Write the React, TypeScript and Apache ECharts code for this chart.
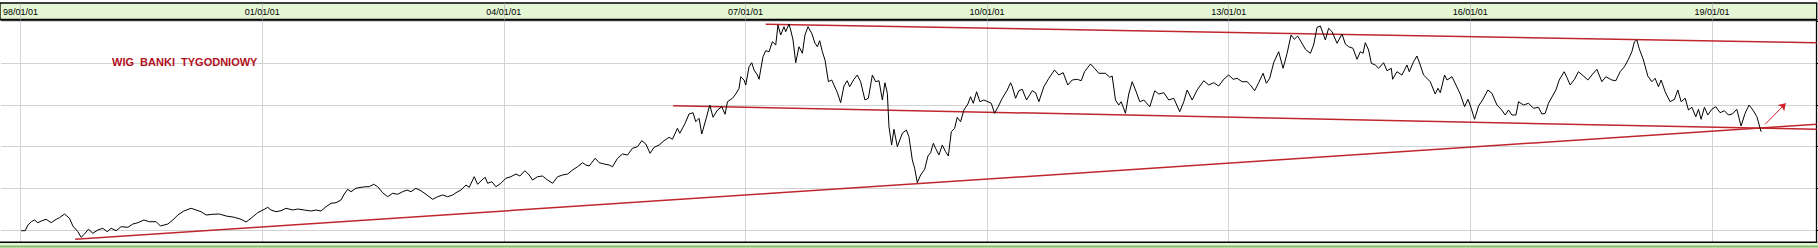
import { useEffect, useRef } from "react";
import * as echarts from "echarts";

// x ticks (every 3 years) and horizontal grid values
const tickYears = [1998, 2001, 2004, 2007, 2010, 2013, 2016, 2019];
const gridValues = [1000, 2000, 3000, 4000, 5000, 6000];

// weekly WIG-Banki readings [decimal year, index]
const wig1998_2001 = [
  [1998.009, 983], [1998.058, 983], [1998.092, 1120], [1998.133, 1199], [1998.174, 1240], [1998.216, 1175], [1998.257, 1216], [1998.319, 1257], [1998.381, 1175], [1998.443, 1257], [1998.484, 1295], [1998.546, 1384], [1998.608, 1281], [1998.65, 1096], [1998.712, 959], [1998.753, 825], [1998.794, 904], [1998.844, 1017], [1998.898, 921], [1998.96, 1000],
  [1999.022, 1041], [1999.076, 959], [1999.125, 1041], [1999.187, 983], [1999.249, 1079], [1999.333, 1065], [1999.395, 1144], [1999.457, 1175], [1999.531, 1240], [1999.6, 1199], [1999.684, 1199], [1999.737, 1096], [1999.829, 1144], [1999.891, 1240], [1999.953, 1360],
  [2000.027, 1456], [2000.118, 1521], [2000.18, 1480], [2000.242, 1439], [2000.304, 1360], [2000.387, 1377], [2000.469, 1384], [2000.552, 1336], [2000.655, 1305], [2000.738, 1257], [2000.8, 1192], [2000.862, 1281], [2000.945, 1415],
  [2001.027, 1497], [2001.069, 1545], [2001.11, 1480], [2001.172, 1439], [2001.234, 1463], [2001.297, 1521], [2001.38, 1480], [2001.442, 1504], [2001.524, 1480], [2001.607, 1456], [2001.669, 1480], [2001.731, 1456], [2001.793, 1559], [2001.855, 1641], [2001.917, 1655], [2001.979, 1720],
];
const wig2002_2005 = [
  [2002.02, 1864], [2002.062, 1977], [2002.103, 1919], [2002.165, 2001], [2002.227, 2025], [2002.289, 2039], [2002.33, 2039], [2002.385, 2097], [2002.434, 2039], [2002.496, 1895], [2002.558, 1799], [2002.62, 1881], [2002.682, 1857], [2002.744, 1919], [2002.798, 1960], [2002.847, 1919], [2002.909, 2001], [2002.971, 1943],
  [2003.033, 1857], [2003.117, 1737], [2003.179, 1799], [2003.241, 1840], [2003.303, 1799], [2003.365, 1840], [2003.406, 1895], [2003.468, 1960], [2003.53, 2080], [2003.571, 2025], [2003.633, 2279], [2003.675, 2097], [2003.728, 2200], [2003.769, 2265], [2003.799, 2121], [2003.852, 2159], [2003.902, 2039], [2003.964, 2121],
  [2004.026, 2241], [2004.088, 2279], [2004.15, 2344], [2004.2, 2296], [2004.262, 2423], [2004.315, 2320], [2004.357, 2200], [2004.419, 2279], [2004.481, 2296], [2004.531, 2217], [2004.606, 2121], [2004.668, 2279], [2004.73, 2320], [2004.792, 2344], [2004.854, 2440], [2004.916, 2519], [2004.978, 2615],
  [2005.019, 2560], [2005.06, 2536], [2005.134, 2721], [2005.184, 2615], [2005.246, 2584], [2005.308, 2560], [2005.35, 2519], [2005.412, 2721], [2005.474, 2824], [2005.536, 2800], [2005.598, 2961], [2005.66, 2999], [2005.713, 3143], [2005.763, 3064], [2005.816, 2841], [2005.866, 2985], [2005.928, 3040], [2005.99, 3143],
];
const wig2006_2009 = [
  [2006.052, 3225], [2006.094, 3177], [2006.156, 3441], [2006.185, 3321], [2006.251, 3561], [2006.3, 3784], [2006.35, 3815], [2006.383, 3599], [2006.424, 3681], [2006.458, 3304], [2006.507, 3640], [2006.557, 4000], [2006.598, 3705], [2006.653, 3880], [2006.706, 3959], [2006.747, 3777], [2006.777, 4079], [2006.839, 4161], [2006.88, 4264], [2006.921, 4401], [2006.942, 4679], [2006.983, 4600],
  [2007.004, 4480], [2007.045, 4919], [2007.078, 5015], [2007.107, 4840], [2007.149, 4720], [2007.169, 4617], [2007.218, 5159], [2007.252, 5303], [2007.293, 5279], [2007.335, 5519], [2007.376, 5440], [2007.404, 5920], [2007.438, 5680], [2007.479, 5879], [2007.5, 5759], [2007.541, 5944], [2007.562, 5800], [2007.591, 5560], [2007.624, 5015], [2007.665, 5399], [2007.707, 5241], [2007.739, 5680], [2007.777, 5879], [2007.823, 5721], [2007.864, 5481], [2007.893, 5399], [2007.922, 5543], [2007.955, 5279], [2007.988, 5080],
  [2008.03, 4559], [2008.071, 4600], [2008.099, 4480], [2008.142, 4295], [2008.182, 4055], [2008.223, 4456], [2008.264, 4583], [2008.294, 4439], [2008.347, 4617], [2008.389, 4720], [2008.43, 4559], [2008.484, 4120], [2008.526, 4161], [2008.576, 4720], [2008.617, 4559], [2008.658, 4583], [2008.7, 4120], [2008.732, 4535], [2008.762, 4281], [2008.782, 3479], [2008.815, 3040], [2008.844, 3417], [2008.886, 2999], [2008.948, 3321], [2008.998, 3400],
  [2009.03, 3239], [2009.072, 2680], [2009.101, 2481], [2009.134, 2135], [2009.175, 2320], [2009.225, 2457], [2009.266, 2776], [2009.299, 2855], [2009.333, 3081], [2009.361, 2961], [2009.402, 2800], [2009.444, 3040], [2009.485, 2879], [2009.519, 2776], [2009.556, 3359], [2009.597, 3441], [2009.63, 3705], [2009.671, 3599], [2009.712, 3880], [2009.762, 4024], [2009.795, 4199], [2009.829, 4041], [2009.87, 4319], [2009.911, 4079], [2009.96, 4120],
];
const wig2010_2014 = [
  [2010.01, 4079], [2010.052, 4041], [2010.093, 3801], [2010.134, 3945], [2010.189, 4161], [2010.251, 4360], [2010.292, 4535], [2010.313, 4439], [2010.354, 4161], [2010.394, 4343], [2010.437, 4377], [2010.49, 4120], [2010.561, 4343], [2010.602, 4295], [2010.643, 4079], [2010.705, 4439], [2010.767, 4641], [2010.837, 4840], [2010.891, 4720], [2010.945, 4775],
  [2011.002, 4480], [2011.057, 4600], [2011.119, 4617], [2011.169, 4583], [2011.21, 4799], [2011.284, 4984], [2011.334, 4881], [2011.387, 4761], [2011.47, 4761], [2011.524, 4665], [2011.553, 4696], [2011.594, 4120], [2011.635, 4000], [2011.665, 4079], [2011.718, 3801], [2011.759, 4264], [2011.802, 4559], [2011.843, 4360], [2011.896, 4079], [2011.946, 4120],
  [2012.02, 3959], [2012.082, 4343], [2012.132, 4264], [2012.194, 4295], [2012.256, 4120], [2012.318, 4161], [2012.392, 3839], [2012.442, 4079], [2012.484, 4360], [2012.546, 4120], [2012.608, 4360], [2012.69, 4583], [2012.752, 4480], [2012.814, 4535], [2012.876, 4456], [2012.938, 4617],
  [2013.0, 4720], [2013.055, 4617], [2013.104, 4641], [2013.166, 4559], [2013.228, 4559], [2013.269, 4480], [2013.322, 4343], [2013.372, 4535], [2013.427, 4761], [2013.468, 4521], [2013.509, 4641], [2013.558, 5015], [2013.62, 5279], [2013.675, 4881], [2013.725, 5241], [2013.774, 5680], [2013.815, 5577], [2013.856, 5656], [2013.898, 5519], [2013.952, 5337],
  [2014.014, 5241], [2014.054, 5440], [2014.097, 5865], [2014.138, 5896], [2014.2, 5560], [2014.24, 5841], [2014.283, 5759], [2014.345, 5481], [2014.407, 5704], [2014.448, 5464], [2014.489, 5399], [2014.543, 5361], [2014.593, 5097], [2014.634, 5279], [2014.668, 5241], [2014.696, 5495], [2014.737, 5320], [2014.771, 5001], [2014.82, 4960], [2014.861, 4881], [2014.923, 5015], [2014.965, 4823],
];
const wig2015_2019 = [
  [2015.018, 4881], [2015.035, 4617], [2015.089, 4799], [2015.151, 4720], [2015.213, 4960], [2015.242, 4799], [2015.295, 5039], [2015.337, 5176], [2015.378, 4960], [2015.419, 4720], [2015.461, 4641], [2015.502, 4559], [2015.564, 4264], [2015.598, 4401], [2015.627, 4295], [2015.68, 4720], [2015.71, 4600], [2015.772, 4679], [2015.821, 4480], [2015.875, 4264], [2015.928, 3959], [2015.97, 4137],
  [2016.011, 3921], [2016.052, 3657], [2016.102, 3976], [2016.151, 4120], [2016.218, 4360], [2016.268, 4281], [2016.33, 4000], [2016.383, 3897], [2016.433, 3760], [2016.474, 3880], [2016.516, 3760], [2016.566, 3760], [2016.598, 4079], [2016.66, 4000], [2016.722, 4041], [2016.784, 3921], [2016.846, 3945], [2016.888, 3784], [2016.929, 3801], [2016.97, 4041],
  [2017.02, 4216], [2017.062, 4360], [2017.103, 4600], [2017.165, 4799], [2017.198, 4665], [2017.239, 4480], [2017.293, 4617], [2017.342, 4799], [2017.404, 4696], [2017.459, 4600], [2017.509, 4720], [2017.571, 4857], [2017.633, 4559], [2017.682, 4679], [2017.757, 4600], [2017.806, 4583], [2017.86, 4799], [2017.913, 4919], [2017.963, 5097],
  [2018.005, 5279], [2018.037, 5519], [2018.067, 5560], [2018.095, 5361], [2018.149, 5080], [2018.203, 4696], [2018.253, 4559], [2018.294, 4641], [2018.335, 4439], [2018.369, 4600], [2018.418, 4319], [2018.48, 4079], [2018.534, 4137], [2018.576, 4360], [2018.617, 4079], [2018.667, 4161], [2018.708, 3880], [2018.75, 3945], [2018.799, 3719], [2018.832, 3897], [2018.865, 3657], [2018.906, 3945], [2018.948, 3760], [2018.998, 3897],
  [2019.047, 3959], [2019.101, 3815], [2019.154, 3863], [2019.204, 3760], [2019.253, 3784], [2019.308, 3897], [2019.361, 3496], [2019.411, 3801], [2019.46, 4000], [2019.514, 3863], [2019.557, 3719], [2019.61, 3359],
];

// hand-drawn trend lines and arrow (start, end)
const supportLine = [[1998.679, 777], [2020.3, 3537]];
const middleLine = [[2006.102, 3983], [2020.3, 3417]];
const topLine = [[2007.252, 5937], [2020.3, 5495]];
const arrowLine = [[2019.659, 3537], [2019.916, 4041]];

const title = "WIG  BANKI  TYGODNIOWY";

export default function App() {
  const ref = useRef<HTMLDivElement>(null);
  useEffect(() => {
    document.body.style.margin = "0";
    const chart = echarts.init(ref.current!, null, { renderer: "svg" });
    const wig = [...wig1998_2001, ...wig2002_2005, ...wig2006_2009, ...wig2010_2014, ...wig2015_2019];
    const red = "#c0262e";
    chart.setOption({
      animation: false,
      backgroundColor: "#ffffff",
      grid: { left: 0, right: 1.3, top: 19.5, bottom: 6, containLabel: false },
      xAxis: {
        type: "value",
        position: "top",
        min: 1997.76,
        max: 2020.3,
        axisLine: { show: true, lineStyle: { color: "#000", width: 1.5 } },
        axisTick: { show: true, customValues: tickYears, length: 16, lineStyle: { color: "#c8c8c8", width: 1 } },
        axisLabel: {
          customValues: tickYears,
          formatter: (v: number) => `${String(Math.round(v) % 100).padStart(2, "0")}/01/01`,
          margin: 3,
          color: "#000",
          fontSize: 9,
          fontFamily: "Liberation Sans",
        },
        splitLine: { show: true, lineStyle: { color: "#d2d2d2", width: 1 } },
      },
      yAxis: {
        type: "value",
        position: "right",
        min: 712,
        max: 6052,
        axisLine: { show: true, lineStyle: { color: "#000", width: 1.3 } },
        axisTick: { show: true, customValues: gridValues, length: 2, lineStyle: { color: "#000" } },
        axisLabel: { show: false, customValues: gridValues },
        splitLine: { show: true, lineStyle: { color: "#d2d2d2", width: 1 } },
      },
      graphic: [
        {
          type: "rect",
          z: -10,
          shape: { x: 0, y: 3, width: 1816.7, height: 16.5 },
          style: { fill: "#e4f6d4", stroke: "#000", lineWidth: 1.3 },
        },
        {
          type: "rect",
          z: -10,
          shape: { x: 0, y: 242, width: 1818, height: 6 },
          style: { fill: "#e4f6d4" },
        },
        {
          type: "line",
          z: 10,
          shape: { x1: 0, y1: 242.2, x2: 1817.3, y2: 242.2 },
          style: { stroke: "#000", lineWidth: 1.5 },
        },
        {
          type: "line",
          z: 10,
          shape: { x1: 0, y1: 246.5, x2: 1818, y2: 246.5 },
          style: { stroke: "#86bd6e", lineWidth: 2 },
        },
        {
          type: "text",
          z: 10,
          x: 112,
          y: 62,
          style: {
            text: title,
            fill: "#b3101d",
            fontSize: 11,
            fontWeight: "bold",
            fontFamily: "Liberation Sans",
            verticalAlign: "middle",
            align: "left",
          },
        },
      ],
      series: [
        {
          type: "line",
          data: supportLine,
          symbol: "none",
          lineStyle: { color: red, width: 1.5 },
          z: 3,
        },
        {
          type: "line",
          data: middleLine,
          symbol: "none",
          lineStyle: { color: red, width: 1.5 },
          z: 3,
        },
        {
          type: "line",
          data: topLine,
          symbol: "none",
          lineStyle: { color: red, width: 1.5 },
          z: 3,
        },
        {
          type: "lines",
          coordinateSystem: "cartesian2d",
          data: [{ coords: arrowLine }],
          symbol: ["none", "arrow"],
          symbolSize: 7,
          lineStyle: { color: "#d0202a", width: 1, opacity: 1 },
          z: 3,
        },
        {
          type: "line",
          data: wig,
          symbol: "none",
          lineStyle: { color: "#000", width: 1 },
          z: 5,
        },
      ],
    });
    return () => chart.dispose();
  }, []);
  return <div ref={ref} style={{ width: 1818, height: 248 }} />;
}
